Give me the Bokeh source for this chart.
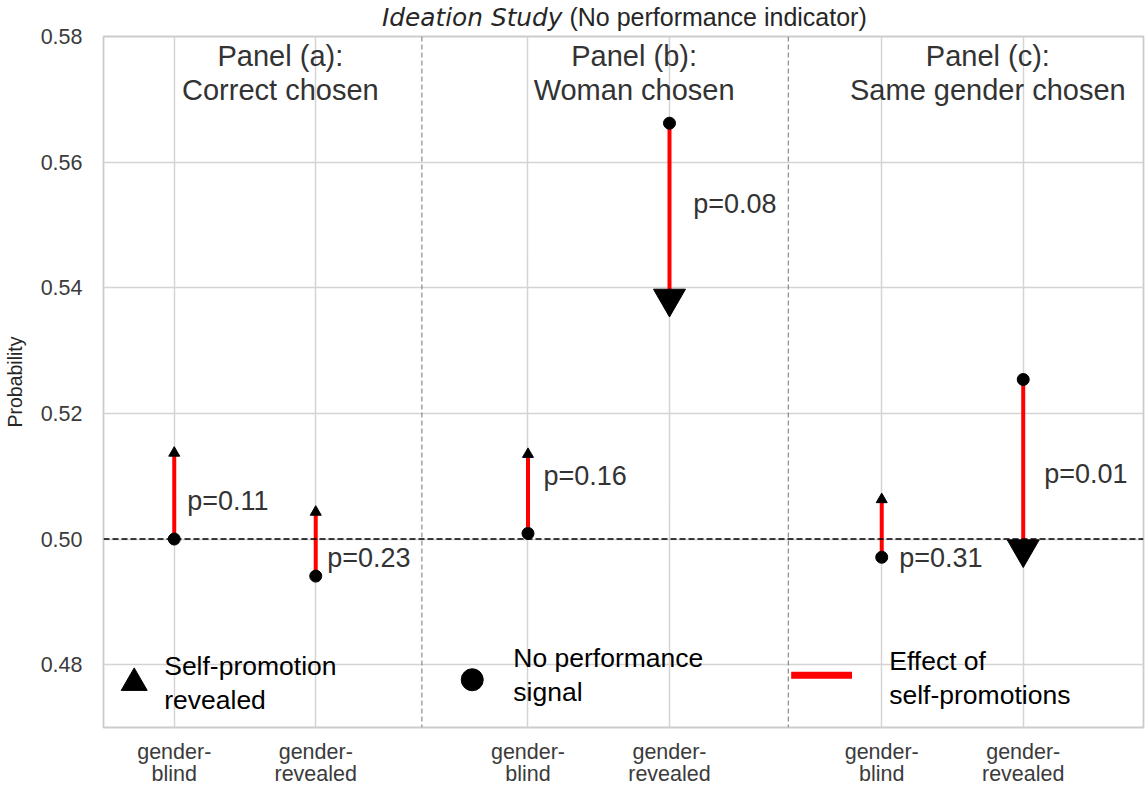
from bokeh.plotting import figure
from bokeh.models import ColumnDataSource, Span, Label, FixedTicker, Range1d, Div
from bokeh.layouts import column
from bokeh.core.properties import value
from bokeh.embed import file_html
from bokeh.resources import INLINE

# ---------------- data ----------------
conditions = ["gender-blind", "gender-revealed"] * 3
panels = ["a", "a", "b", "b", "c", "c"]
x_pos = [0, 1, 2.5, 3.5, 5, 6]
no_signal = [0.5000, 0.4941, 0.5009, 0.5662, 0.4971, 0.5254]
self_promo = [0.5137, 0.5043, 0.5135, 0.5383, 0.5063, 0.4984]
p_values = ["p=0.11", "p=0.23", "p=0.16", "p=0.08", "p=0.31", "p=0.01"]
panel_titles = ["Panel (a):\nCorrect chosen", "Panel (b):\nWoman chosen",
                "Panel (c):\nSame gender chosen"]
y_ticks = [0.48, 0.50, 0.52, 0.54, 0.56, 0.58]
x_tick_labels = ["gender-\nblind", "gender-\nrevealed"] * 3
title_main = "Ideation Study"
title_sub = "(No performance indicator)"

# ---------------- layout / style ----------------
tri_sizes = [11, 11, 11, 32, 11, 32]
pval_x = [0.092, 1.081, 2.61, 3.668, 5.124, 6.148]
pval_y = [0.5061, 0.4970, 0.5101, 0.5534, 0.4970, 0.5104]
panel_title_x = [0.75, 3.25, 5.75]
panel_title_y = 0.5742
separators = [1.75, 4.34]
FONT = "Liberation Sans"
TITLE_H = 30

markers = ["triangle" if s > b else "inverted_triangle"
           for s, b in zip(self_promo, no_signal)]

src = ColumnDataSource(dict(x=x_pos, base=no_signal, promo=self_promo,
                            marker=markers, size=tri_sizes))

# the figure is pulled up under the title strip so that its top border is free
p = figure(width=1145, height=789, output_backend="svg",
           toolbar_location=None, margin=(-TITLE_H, 0, 0, 0),
           x_range=Range1d(-0.5, 6.85), y_range=Range1d(0.47, 0.58),
           min_border_left=103, min_border_right=2, min_border_top=36,
           min_border_bottom=62)
p.background_fill_color = "white"
p.border_fill_color = None
p.outline_line_color = "#cccccc"
p.outline_line_width = 1.8

# axes
p.xaxis.ticker = FixedTicker(ticks=x_pos)
p.xaxis.major_label_overrides = {x: lab for x, lab in zip(x_pos, x_tick_labels)}
p.yaxis.ticker = FixedTicker(ticks=y_ticks)
p.yaxis.major_label_overrides = {t: f"{t:.2f}" for t in y_ticks}
for ax in (p.xaxis[0], p.yaxis[0]):
    ax.axis_line_color = None
    ax.major_tick_line_color = None
    ax.minor_tick_line_color = None
    ax.major_tick_out = 0
    ax.major_tick_in = 0
    ax.major_label_text_font = FONT
    ax.major_label_text_color = "#3b3b3b"
    ax.major_label_text_font_size = "21.5px"
p.xaxis.major_label_text_line_height = 0.92
p.xaxis.major_label_standoff = 12
p.yaxis.major_label_standoff = 21
p.yaxis.axis_label = "Probability"
p.yaxis.axis_label_text_font = FONT
p.yaxis.axis_label_text_font_size = "19.5px"
p.yaxis.axis_label_text_font_style = "normal"
p.yaxis.axis_label_text_color = "#262626"
p.yaxis.axis_label_standoff = 12

p.xgrid.grid_line_color = "#d4d4d4"
p.ygrid.grid_line_color = "#d4d4d4"
p.xgrid.grid_line_width = 1.5
p.ygrid.grid_line_width = 1.5

# reference lines
p.add_layout(Span(location=0.5, dimension="width", line_color="black",
                  line_width=1.5, line_dash="6 3"))
for s in separators:
    p.add_layout(Span(location=s, dimension="height", line_color="#8a8a8a",
                      line_width=1.2, line_dash="5 3"))

# data marks
p.segment(x0="x", y0="base", x1="x", y1="promo", source=src,
          line_color="red", line_width=4)
p.scatter(x="x", y="base", source=src, marker="circle", size=12,
          fill_color="black", line_color="black")
p.scatter(x="x", y="promo", source=src, marker="marker", size="size",
          fill_color="black", line_color="black")

# p-value labels
p.text(x=pval_x, y=pval_y, text=p_values, text_font=value(FONT),
       text_font_size="27px", text_color="#333333", text_align="left",
       text_baseline="middle")

# panel titles
for tx, tt in zip(panel_title_x, panel_titles):
    p.add_layout(Label(x=tx, y=panel_title_y, text=tt, text_font=FONT,
                       text_font_size="29px", text_color="#333333",
                       text_align="center", text_baseline="middle",
                       text_line_height=1.07))

# legend (drawn manually to match the reference layout)
p.scatter(x=[-0.283], y=[0.4771], marker="triangle", size=26,
          fill_color="black", line_color="black")
p.add_layout(Label(x=-0.071, y=0.4771, text="Self-promotion\nrevealed",
                   text_font=FONT, text_font_size="26.5px", text_color="black",
                   text_align="left", text_baseline="middle",
                   text_line_height=1.13))
p.scatter(x=[2.106], y=[0.4776], marker="circle", size=22,
          fill_color="black", line_color="black")
p.add_layout(Label(x=2.396, y=0.4783, text="No performance\nsignal",
                   text_font=FONT, text_font_size="26.5px", text_color="black",
                   text_align="left", text_baseline="middle",
                   text_line_height=1.13))
p.segment(x0=[4.36], y0=[0.4783], x1=[4.79], y1=[0.4783],
          line_color="red", line_width=7)
p.add_layout(Label(x=5.053, y=0.4779, text="Effect of\nself-promotions",
                   text_font=FONT, text_font_size="26.5px", text_color="black",
                   text_align="left", text_baseline="middle",
                   text_line_height=1.13))

# title: italic study name + plain subtitle (HTML so both styles fit on one line)
title_html = (
    '<div style="white-space:nowrap;padding-left:382px;padding-top:3px;'
    'line-height:28px;color:#262626;">'
    '<span style="font-family:\'DejaVu Sans\';font-style:italic;font-size:24.8px;">'
    + title_main + '</span>'
    '<span style="font-family:\'Liberation Sans\';font-size:25px;">&nbsp;'
    + title_sub + '</span></div>'
)
title_div = Div(text=title_html, width=1145, height=TITLE_H, margin=(0, 0, 0, 0))

layout = column(title_div, p, spacing=0, margin=(0, 0, 0, 0))
open("out.html", "w").write(file_html(layout, INLINE))
